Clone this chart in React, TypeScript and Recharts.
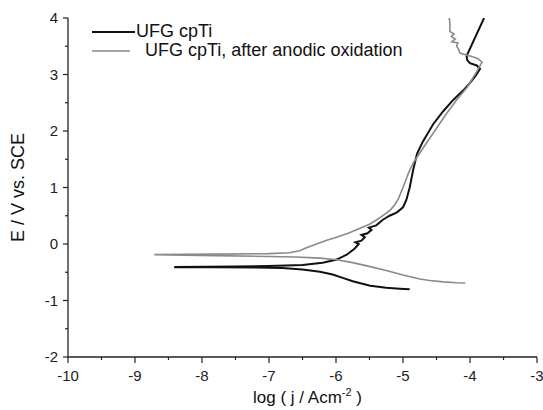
import { LineChart, Line, XAxis, YAxis, Legend, Label } from 'recharts';

// log(j / A cm^-2) vs potential (V vs. SCE)
const ufgCathodic: [number, number][] = [
  [-4.9, -0.8], [-5.05, -0.79], [-5.25, -0.775], [-5.49, -0.74], [-5.62, -0.7], [-5.75, -0.66],
  [-5.9, -0.6], [-6.05, -0.54], [-6.24, -0.49], [-6.5, -0.45], [-6.8, -0.425], [-7.2, -0.415],
  [-7.8, -0.41], [-8.4, -0.41],
];
const ufgAnodic: [number, number][] = [
  [-8.4, -0.405], [-7.5, -0.4], [-7.0, -0.39], [-6.5, -0.37], [-6.2, -0.33], [-6.0, -0.28],
  [-5.84, -0.19], [-5.72, -0.08], [-5.66, 0.0], [-5.71, 0.03], [-5.62, 0.06], [-5.57, 0.12],
  [-5.62, 0.16], [-5.53, 0.19], [-5.47, 0.25], [-5.51, 0.29], [-5.4, 0.33], [-5.3, 0.43],
  [-5.2, 0.5], [-5.09, 0.56], [-5.0, 0.65], [-4.95, 0.78], [-4.9, 1.0], [-4.85, 1.3],
  [-4.79, 1.6], [-4.7, 1.82], [-4.55, 2.12], [-4.4, 2.35], [-4.25, 2.55], [-4.1, 2.72],
  [-4.0, 2.85], [-3.92, 2.97], [-3.85, 3.1], [-3.9, 3.16], [-4.0, 3.2], [-4.04, 3.25],
  [-4.05, 3.33], [-3.79, 4.0],
];
const oxCathodic: [number, number][] = [
  [-4.07, -0.69], [-4.2, -0.685], [-4.4, -0.67], [-4.6, -0.645], [-4.75, -0.62], [-5.0, -0.55],
  [-5.25, -0.47], [-5.49, -0.4], [-5.75, -0.33], [-5.99, -0.28], [-6.24, -0.25], [-6.6, -0.23],
  [-7.0, -0.22], [-7.8, -0.205], [-8.7, -0.19],
];
const oxAnodic: [number, number][] = [
  [-8.7, -0.185], [-7.8, -0.18], [-7.0, -0.17], [-6.7, -0.155], [-6.54, -0.12], [-6.45, -0.07],
  [-6.34, -0.02], [-6.15, 0.06], [-5.99, 0.12], [-5.8, 0.2], [-5.64, 0.28], [-5.5, 0.35],
  [-5.39, 0.43], [-5.28, 0.52], [-5.19, 0.6], [-5.12, 0.7], [-5.07, 0.8], [-5.0, 1.0],
  [-4.92, 1.25], [-4.85, 1.43], [-4.7, 1.7], [-4.55, 1.96], [-4.35, 2.31], [-4.2, 2.55],
  [-4.04, 2.78], [-3.9, 3.05], [-3.82, 3.22], [-3.88, 3.28], [-3.95, 3.31], [-4.15, 3.38],
  [-4.17, 3.45], [-4.2, 3.5], [-4.18, 3.56], [-4.27, 3.58], [-4.22, 3.63], [-4.28, 3.67],
  [-4.24, 3.72], [-4.3, 3.76], [-4.3, 3.9], [-4.31, 4.0],
];

const xTicks = [-10, -9.5, -9, -8.5, -8, -7.5, -7, -6.5, -6, -5.5, -5, -4.5, -4, -3.5, -3];
const yTicks = [-2, -1.5, -1, -0.5, 0, 0.5, 1, 1.5, 2, 2.5, 3, 3.5, 4];

const seriesNames = ['UFG cpTi', ' UFG cpTi, after anodic oxidation'];
const seriesColors = ['#111111', '#8a8a8a'];

const toRows = (pts: [number, number][]) => pts.map(([x, y]) => ({ x, y }));
const ufgData = toRows([...ufgCathodic, ...ufgAnodic]);
const oxData = toRows([...oxCathodic, ...oxAnodic]);

const font = '"Liberation Sans", Arial, sans-serif';
const axisColor = '#222';

const YTick = (props: any) => {
  const { x, y, payload } = props;
  const major = Number.isInteger(payload.value);
  return (
    <g>
      <line x1={x} x2={x - (major ? 5 : 3)} y1={y} y2={y} stroke={axisColor} strokeWidth={1.2} />
      {major && (
        <text x={x - 10} y={y} dy="0.36em" textAnchor="end" fontSize={15} fontFamily={font} fill="#222">
          {payload.value}
        </text>
      )}
    </g>
  );
};

const XTick = (props: any) => {
  const { x, y, payload } = props;
  const major = Number.isInteger(payload.value);
  return (
    <g>
      <line x1={x} x2={x} y1={y} y2={y + (major ? 6 : 3)} stroke={axisColor} strokeWidth={1.2} />
      {major && (
        <text x={x} y={y + 24} textAnchor="middle" fontSize={15} fontFamily={font} fill="#222">
          {payload.value}
        </text>
      )}
    </g>
  );
};

const LegendBox = () => (
  <div style={{ fontFamily: font, fontSize: 18, color: '#111' }}>
    <div style={{ display: 'flex', alignItems: 'center', height: 19 }}>
      <svg width={43} height={4}><line x1={0} x2={43} y1={2} y2={2} stroke={seriesColors[0]} strokeWidth={2} /></svg>
      <span style={{ marginLeft: 1, whiteSpace: 'pre' }}>{seriesNames[0]}</span>
    </div>
    <div style={{ display: 'flex', alignItems: 'center', height: 19 }}>
      <svg width={38} height={4}><line x1={0} x2={38} y1={2} y2={2} stroke={seriesColors[1]} strokeWidth={1.6} /></svg>
      <span style={{ marginLeft: 10, whiteSpace: 'pre' }}>{seriesNames[1]}</span>
    </div>
  </div>
);

export default function App() {
  return (
    <div style={{ position: 'absolute', left: 0, top: 0, width: 543, height: 410, background: '#fff' }}>
      <LineChart width={543} height={410} margin={{ top: 18, right: 6, bottom: 8, left: 8 }}>
        <XAxis
          type="number"
          dataKey="x"
          domain={[-10, -3]}
          ticks={xTicks}
          interval={0}
          allowDataOverflow
          height={45}
          tickSize={0}
          tickMargin={0}
          tickLine={false}
          tick={<XTick />}
          axisLine={{ stroke: axisColor, strokeWidth: 1.3 }}
        >
          <Label
            content={({ viewBox }: any) => (
              <text
                x={viewBox.x + viewBox.width / 2 + 5}
                y={viewBox.y + 46}
                textAnchor="middle"
                fontSize={17}
                fontFamily={font}
                fill="#111"
              >
                log ( j / Acm
                <tspan fontSize={11} dy={-7}>-2</tspan>
                <tspan dy={7}> )</tspan>
              </text>
            )}
          />
        </XAxis>
        <YAxis
          type="number"
          dataKey="y"
          domain={[-2, 4]}
          ticks={yTicks}
          interval={0}
          allowDataOverflow
          width={60}
          tickSize={0}
          tickMargin={0}
          tickLine={false}
          tick={<YTick />}
          axisLine={{ stroke: axisColor, strokeWidth: 1.3 }}
        >
          <Label
            content={({ viewBox }: any) => {
              const cx = viewBox.x + 10;
              const cy = viewBox.y + viewBox.height / 2;
              return (
                <text
                  x={cx}
                  y={cy}
                  dy="0.36em"
                  transform={`rotate(-90 ${cx} ${cy})`}
                  textAnchor="middle"
                  fontSize={18}
                  fontFamily={font}
                  fill="#111"
                >
                  E / V vs. SCE
                </text>
              );
            }}
          />
        </YAxis>
        <Legend
          layout="vertical"
          align="center"
          verticalAlign="middle"
          content={<LegendBox />}
          wrapperStyle={{ left: 92, top: 22, width: 'auto', height: 'auto' }}
        />
        <Line
          data={ufgData}
          dataKey="y"
          name={seriesNames[0]}
          type="linear"
          stroke={seriesColors[0]}
          strokeWidth={2}
          dot={false}
          isAnimationActive={false}
        />
        <Line
          data={oxData}
          dataKey="y"
          name={seriesNames[1]}
          type="linear"
          stroke={seriesColors[1]}
          strokeWidth={1.6}
          dot={false}
          isAnimationActive={false}
        />
      </LineChart>
    </div>
  );
}
